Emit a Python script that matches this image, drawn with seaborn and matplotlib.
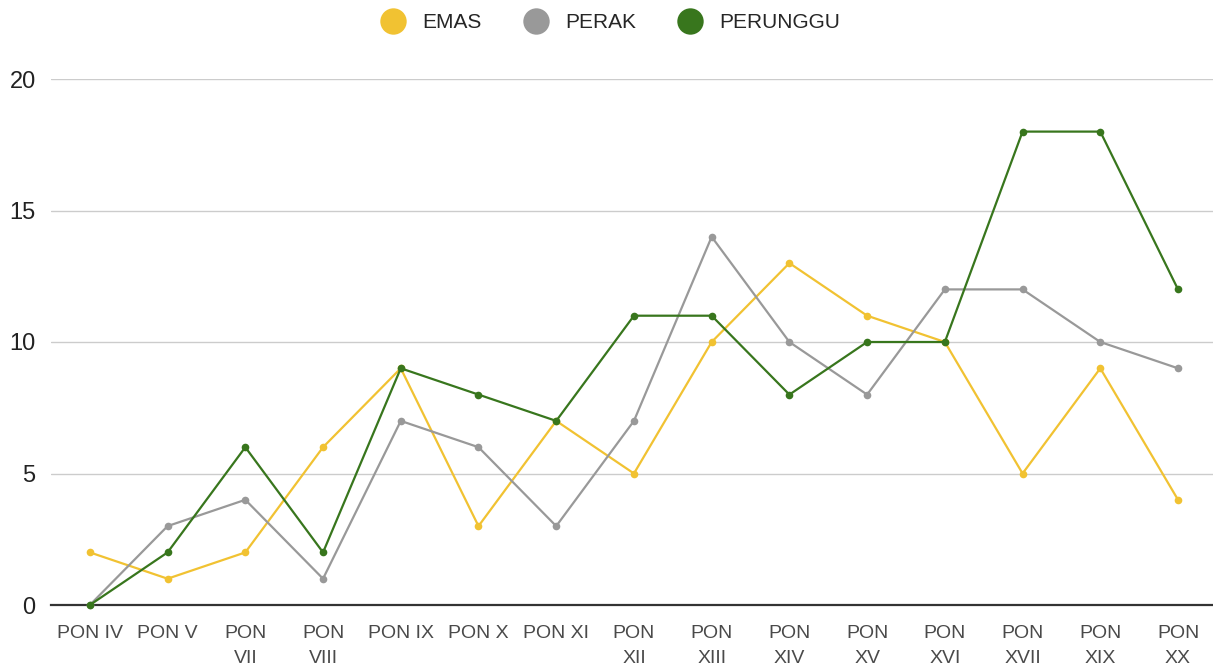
import matplotlib.pyplot as plt
import seaborn as sns
import pandas as pd
from matplotlib.lines import Line2D

events = ["PON IV", "PON V", "PON VII", "PON VIII", "PON IX", "PON X", "PON XI",
          "PON XII", "PON XIII", "PON XIV", "PON XV", "PON XVI", "PON XVII",
          "PON XIX", "PON XX"]
# labels as wrapped on the chart
tick_labels = ["PON IV", "PON V", "PON\nVII", "PON\nVIII", "PON IX", "PON X", "PON XI",
               "PON\nXII", "PON\nXIII", "PON\nXIV", "PON\nXV", "PON\nXVI", "PON\nXVII",
               "PON\nXIX", "PON\nXX"]
emas = [2, 1, 2, 6, 9, 3, 7, 5, 10, 13, 11, 10, 5, 9, 4]
perak = [0, 3, 4, 1, 7, 6, 3, 7, 14, 10, 8, 12, 12, 10, 9]
perunggu = [0, 2, 6, 2, 9, 8, 7, 11, 11, 8, 10, 10, 18, 18, 12]

series = ["EMAS", "PERAK", "PERUNGGU"]
colors = {"EMAS": "#f1c232", "PERAK": "#999999", "PERUNGGU": "#38761d"}

df = pd.DataFrame({"event": events, "EMAS": emas, "PERAK": perak, "PERUNGGU": perunggu})
df["x"] = range(len(events))
long = df.melt(id_vars=["event", "x"], value_vars=series, var_name="medal", value_name="count")

sns.set_style("white")
plt.rcParams["font.family"] = ["Liberation Sans", "DejaVu Sans"]

fig = plt.figure(figsize=(12.13, 6.68), dpi=100)
ax = fig.add_axes([51 / 1213, 1 - 605 / 668, 1 - 51 / 1213, (605 - 79) / 668])

sns.lineplot(data=long, x="x", y="count", hue="medal", hue_order=series, palette=colors,
             marker="o", markersize=5.5, markeredgewidth=0, linewidth=1.6, legend=False,
             ax=ax, clip_on=False)

ax.set_ylim(0, 20)
ax.set_xlim(-0.5, 14.45)
ax.set_yticks([0, 5, 10, 15, 20])
ax.set_xticks(range(len(events)))
ax.set_xticklabels(tick_labels, color="#4a4a4a", fontsize=14, linespacing=1.62, va="top")
ax.tick_params(axis="y", labelsize=17, colors="#222222", length=0, pad=11)
ax.tick_params(axis="x", length=0, pad=14.5)
ax.yaxis.grid(True, color="#cccccc", linewidth=1)
ax.set_axisbelow(True)
for s in ["top", "right", "left"]:
    ax.spines[s].set_visible(False)
ax.spines["bottom"].set_color("#333333")
ax.spines["bottom"].set_linewidth(1.6)
ax.spines["bottom"].set_zorder(1)
ax.set_xlabel("")
ax.set_ylabel("")

handles = [Line2D([], [], linestyle="none", marker="o", markersize=19,
                  markerfacecolor=colors[s], markeredgewidth=0) for s in series]
fig.legend(handles, series, loc="center", bbox_to_anchor=(0.5, 1 - 23 / 668), ncol=3,
           frameon=False, fontsize=15, handletextpad=0.4, columnspacing=1.6)

fig.savefig("out.png", dpi=100)
